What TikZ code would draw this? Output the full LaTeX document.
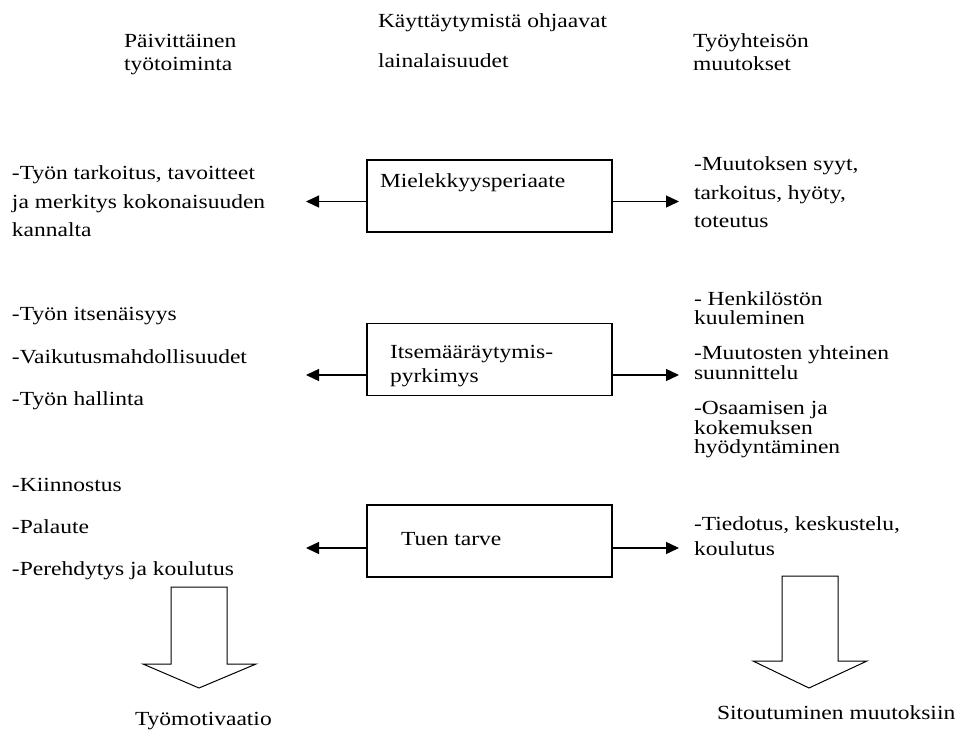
\documentclass[tikz,border=0pt]{standalone}
\usepackage{fontspec}
\setmainfont{Liberation Serif}[FakeStretch=1.175]
\usetikzlibrary{arrows.meta}
\begin{document}
\begin{tikzpicture}[x=1pt,y=-1pt,
  every node/.style={inner sep=0pt,outer sep=0pt},
  txt/.style={anchor=base west,font=\fontsize{20}{23}\selectfont},
  box/.style={draw,line width=1.3pt,minimum width=245pt,minimum height=72pt},
  arr/.style={line width=1.4pt,-{Triangle[length=13pt,width=12pt]}},
  big/.style={line width=1pt,line join=miter}]
\useasboundingbox (0,0) rectangle (958,731);
% headers
\node[txt] (h1a) at (124,47) {Päivittäinen};
\node[txt] (h1b) at (124,70) {työtoiminta};
\node[txt] (h2a) at (378,27) {Käyttäytymistä ohjaavat};
\node[txt] (h2b) at (378,67) {lainalaisuudet};
\node[txt] (h3a) at (693,47) {Työyhteisön};
\node[txt] (h3b) at (693,70) {muutokset};
% boxes
\node[box] (m1) at (489.5,196) {};
\node[box] (m2) at (489.5,359.5) {};
\node[box] (m3) at (489.5,541) {};
\node[txt] (t1) at (380,187) {Mielekkyysperiaate};
\node[txt] (t2a) at (390,358) {Itsemääräytymis-};
\node[txt] (t2b) at (390,382) {pyrkimys};
\node[txt] (t3) at (401,545) {Tuen tarve};
% arrow ends
\coordinate (l1) at (306,201.5);
\coordinate (r1) at (679,201.5);
\coordinate (l2) at (306,375);
\coordinate (r2) at (679,375);
\coordinate (l3) at (306,548);
\coordinate (r3) at (679,548);
\draw[arr] (m1.west |- l1) -- (l1);
\draw[arr] (m1.east |- r1) -- (r1);
\draw[arr] (m2.west |- l2) -- (l2);
\draw[arr] (m2.east |- r2) -- (r2);
\draw[arr] (m3.west |- l3) -- (l3);
\draw[arr] (m3.east |- r3) -- (r3);
% left texts
\node[txt] (a1) at (12,179) {-Työn tarkoitus, tavoitteet};
\node[txt] (a2) at (12,208) {ja merkitys kokonaisuuden};
\node[txt] (a3) at (12,236) {kannalta};
\node[txt] (b1) at (12,320) {-Työn itsenäisyys};
\node[txt] (b2) at (12,363) {-Vaikutusmahdollisuudet};
\node[txt] (b3) at (12,405) {-Työn hallinta};
\node[txt] (c1) at (12,491) {-Kiinnostus};
\node[txt] (c2) at (12,533) {-Palaute};
\node[txt] (c3) at (12,575) {-Perehdytys ja koulutus};
% right texts
\node[txt] (d1) at (694,170) {-Muutoksen syyt,};
\node[txt] (d2) at (694,199) {tarkoitus, hyöty,};
\node[txt] (d3) at (694,227) {toteutus};
\node[txt] (e1) at (694,305) {- Henkilöstön};
\node[txt] (e2) at (694,324) {kuuleminen};
\node[txt] (e3) at (694,359) {-Muutosten yhteinen};
\node[txt] (e4) at (694,379) {suunnittelu};
\node[txt] (e5) at (694,414) {-Osaamisen ja};
\node[txt] (e6) at (694,434) {kokemuksen};
\node[txt] (e7) at (694,453) {hyödyntäminen};
\node[txt] (f1) at (694,530) {-Tiedotus, keskustelu,};
\node[txt] (f2) at (694,555) {koulutus};
% big arrows
\draw[big] (171,587) -- (227,587) -- (227,664) -- (256,664) -- (199,688) -- (143,664) -- (171,664) -- cycle;
\draw[big] (782,576) -- (838,576) -- (838,661) -- (867,661) -- (809,688) -- (753,661) -- (782,661) -- cycle;
\node[txt] (g1) at (135,725) {Työmotivaatio};
\node[txt] (g2) at (717,719) {Sitoutuminen muutoksiin};
\end{tikzpicture}
\end{document}
